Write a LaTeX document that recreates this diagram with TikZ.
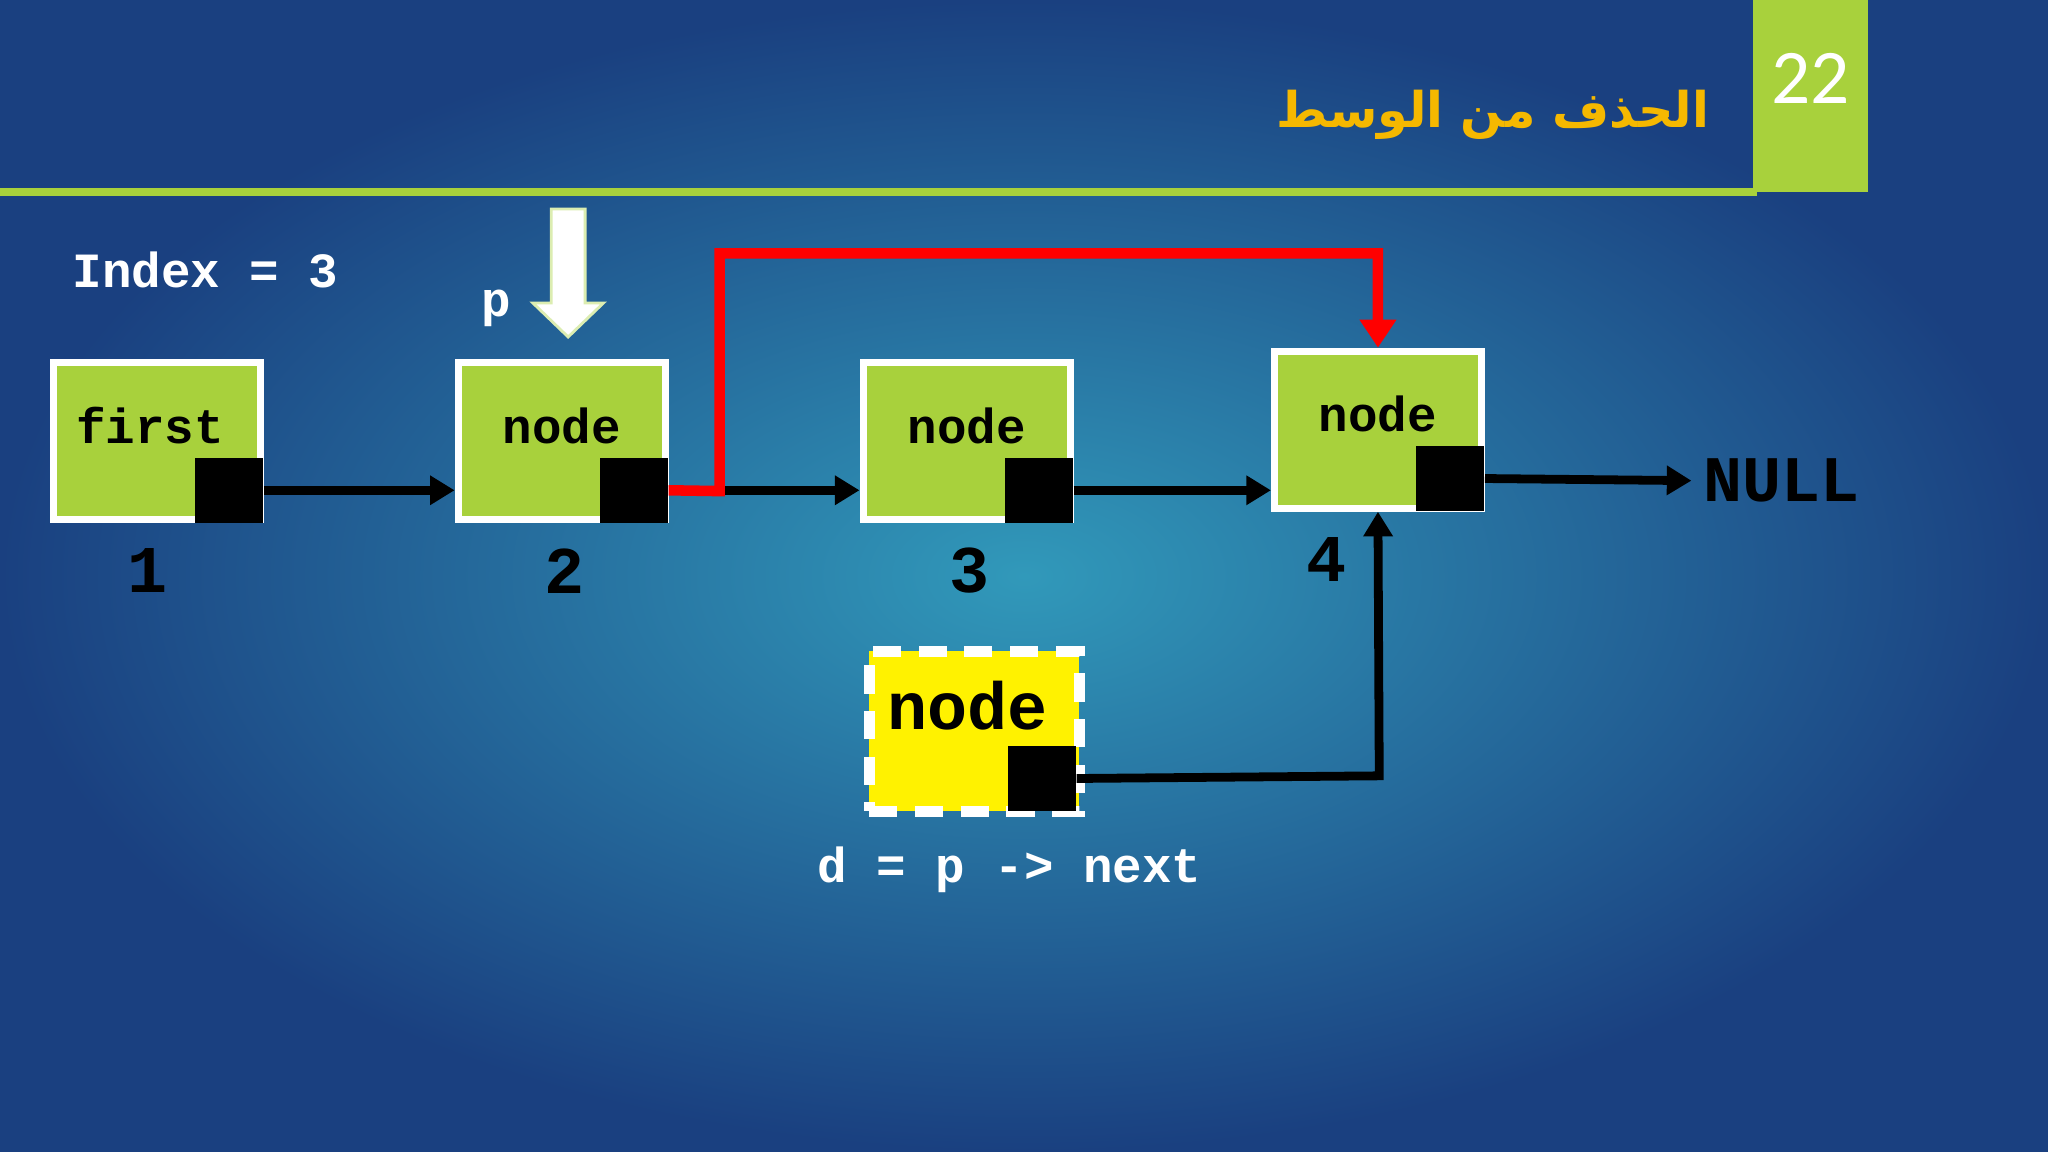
\documentclass[tikz,border=0pt]{standalone}
\usepackage{fontspec}
\setmonofont{Liberation Mono}
\newfontfamily\arabicfont[Script=Arabic]{DejaVu Sans}
\newfontfamily\numfont{Carlito}
\TeXXeTstate=1
\usetikzlibrary{arrows.meta}
\definecolor{bgdark}{HTML}{1A4080}
\definecolor{bglight}{HTML}{3199BA}
\definecolor{lgreen}{HTML}{A8D13C}
\definecolor{ttl}{HTML}{F5B800}
\tikzset{
  lbox/.style={draw=white,line width=2pt,fill=lgreen,minimum width=2.07cm,minimum height=1.57cm,inner sep=0pt},
  ptr/.style={fill=black,minimum width=0.68cm,minimum height=0.65cm,inner sep=0pt},
  lbl/.style={font=\ttfamily\bfseries\fontsize{14}{16}\selectfont},
  num/.style={font=\ttfamily\bfseries\fontsize{19}{21}\selectfont},
  link/.style={line width=2.5pt,-{Triangle[length=7pt,width=8pt]}},
}
\begin{document}
\begin{tikzpicture}[x=0.013061cm,y=-0.013061cm]
\shade[inner color=bglight,outer color=bgdark] (0,0) rectangle (1568,882);
\useasboundingbox (0,0) rectangle (1568,882);
\draw[lgreen,line width=2pt] (0,147) -- (1345,147);
\fill[lgreen] (1342,0) rectangle (1430,147);
\node[text=white,font=\numfont\fontsize{22}{24}\selectfont] (pg) at (1386,60) {22};
\node[anchor=east,text=ttl,font=\arabicfont\bfseries\fontsize{14}{16}\selectfont] (title) at (1318,88) {\beginR الحذف من الوسط\endR};
\node[anchor=west,text=white,lbl] (idx) at (46,207) {Index = 3};
\node[text=white,lbl] (p) at (380,236) {p};
\draw[fill=white,draw=lgreen!40!white,line width=0.8pt] (422,160) -- (448,160) -- (448,232) -- (462,232) -- (435,258) -- (408,232) -- (422,232) -- cycle;
\node[lbox] (b1) at (120,338) {};
\node[lbox] (b2) at (430,338) {};
\node[lbox] (b3) at (740,338) {};
\node[lbox] (b4) at (1055,329) {};
\node[lbl] at (115,326) {first};
\node[lbl] at (430,326) {node};
\node[lbl] at (740,326) {node};
\node[lbl] at (1055,317) {node};
\node[ptr,anchor=south east] (s1) at (b1.south east) {};
\node[ptr,anchor=south east] (s2) at (b2.south east) {};
\node[ptr,anchor=south east] (s3) at (b3.south east) {};
\node[ptr,anchor=south east] (s4) at (b4.south east) {};
\node[num] (n1) at (113,437) {1};
\node[num] (n2) at (432,437) {2};
\node[num] (n3) at (742,437) {3};
\node[num] (n4) at (1016,428) {4};
\node[anchor=west,font=\ttfamily\bfseries\fontsize{18.5}{21}\selectfont] (null) at (1295,368) {NULL};
\draw[link] (s1.east) -- (b2.west |- s1.east);
\draw[link] (s2.east) -- (b3.west |- s2.east);
\draw[link] (s3.east) -- (b4.west |- s3.east);
\draw[link] (s4.east) -- (null.west);
\draw[red,line width=3pt,-{Triangle[length=8pt,width=10pt]}] (s2.east) -- (551,376) -- (551,194) -- (1055,194) -- (b4.north);
\node[draw=white,dashed,dash pattern=on 8pt off 5pt,line width=3pt,fill=yellow,minimum width=2.1cm,minimum height=1.6cm,inner sep=0pt] (d) at (746,560) {};
\node[font=\ttfamily\bfseries\fontsize{19}{21}\selectfont] at (741,540) {node};
\node[ptr,anchor=south east] (sd) at ([xshift=-0.08cm,yshift=0.05cm]d.south east) {};
\draw[link] (sd.east) -- (1056,594) -- (b4.south);
\node[text=white,lbl] (expr) at (773,666) {d = p -> next};
\end{tikzpicture}
\end{document}
